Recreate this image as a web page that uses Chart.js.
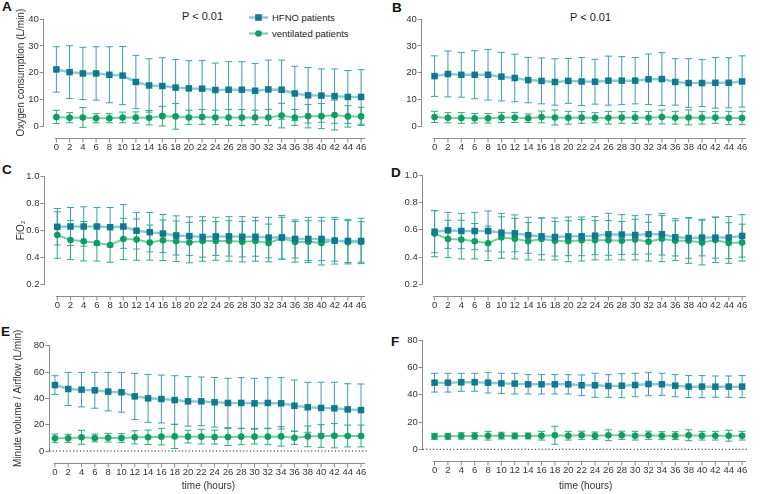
<!DOCTYPE html>
<html>
<head>
<meta charset="utf-8">
<script src="https://cdn.jsdelivr.net/npm/chart.js@4.4.0/dist/chart.umd.min.js"></script>
<style>
body { margin: 0; width: 763px; height: 494px; position: relative; background: #fff; overflow: hidden; font-family: "Liberation Sans", Arial, sans-serif; color: #222; }
canvas { position: absolute; }
.letter { position: absolute; font-weight: bold; font-size: 13.5px; line-height: 1; color: #111; }
.pval { position: absolute; font-size: 11px; line-height: 1; }
.legtxt { position: absolute; font-size: 9.5px; line-height: 1; white-space: nowrap; }
.legmark { position: absolute; }
</style>
</head>
<body>

<div class="letter" style="left:2px;top:0px">A</div>
<div class="letter" style="left:392px;top:1px">B</div>
<div class="letter" style="left:2px;top:163px">C</div>
<div class="letter" style="left:391px;top:165.5px">D</div>
<div class="letter" style="left:1px;top:325px">E</div>
<div class="letter" style="left:391px;top:335px">F</div>

<div class="pval" style="left:182px;top:11.3px">P &lt; 0.01</div>
<div class="pval" style="left:570px;top:12px">P &lt; 0.01</div>

<svg class="legmark" style="left:249px;top:13px" width="19" height="9">
  <line x1="0" y1="4.5" x2="19" y2="4.5" stroke="#8fc9d6" stroke-width="2.5"/>
  <rect x="6.2" y="1.2" width="6.6" height="6.6" fill="#10798e"/>
</svg>
<div class="legtxt" style="left:272px;top:12.5px">HFNO patients</div>
<svg class="legmark" style="left:249px;top:29.3px" width="19" height="9">
  <line x1="0" y1="4.5" x2="19" y2="4.5" stroke="#77cda4" stroke-width="2"/>
  <circle cx="9.5" cy="4.5" r="3.3" fill="#0e9d62"/>
</svg>
<div class="legtxt" style="left:272px;top:28.7px">ventilated patients</div>

<canvas id="cA"></canvas>
<canvas id="cB"></canvas>
<canvas id="cC"></canvas>
<canvas id="cD"></canvas>
<canvas id="cE"></canvas>
<canvas id="cF"></canvas>

<script>
// time points (hours)
const hours = [0, 2, 4, 6, 8, 10, 12, 14, 16, 18, 20, 22, 24, 26, 28, 30, 32, 34, 36, 38, 40, 42, 44, 46];
const seriesNames = ['HFNO patients', 'ventilated patients'];

// A - oxygen consumption (L/min), mean and SD
const o2HfnoA   = [21.2, 20.2, 19.7, 19.7, 19.2, 18.9, 16.5, 15.2, 15.0, 14.4, 14.1, 14.0, 13.5, 13.6, 13.6, 13.2, 13.7, 13.6, 12.2, 11.5, 11.4, 11.2, 10.9, 10.9];
const o2HfnoSdA = [8.5, 9.9, 9.8, 10.0, 10.5, 10.9, 10.0, 10.0, 10.6, 10.5, 10.4, 10.5, 10.1, 10.5, 10.5, 10.2, 11.0, 11.1, 10.2, 10.4, 10.0, 10.2, 9.9, 10.2];
const o2VentA   = [3.4, 3.1, 3.2, 2.9, 2.9, 3.2, 3.2, 3.1, 3.7, 3.6, 3.2, 3.4, 3.2, 3.2, 3.2, 3.2, 3.2, 3.9, 3.2, 3.7, 3.7, 4.1, 3.6, 3.6];
const o2VentSdA = [2.5, 1.9, 3.7, 1.7, 1.7, 2.0, 2.1, 2.7, 3.7, 4.8, 2.7, 2.8, 2.7, 3.0, 3.0, 2.7, 3.0, 4.6, 3.0, 4.4, 4.7, 5.6, 4.0, 3.4];

// B
const o2HfnoB   = [18.7, 19.5, 19.2, 19.2, 19.2, 18.5, 18.0, 17.2, 16.9, 16.5, 16.9, 16.7, 16.6, 17.0, 17.0, 17.0, 17.5, 17.6, 16.5, 16.1, 16.1, 16.2, 16.2, 16.7];
const o2HfnoSdB = [7.6, 8.6, 8.4, 9.0, 9.5, 9.1, 8.9, 8.5, 8.6, 8.7, 8.4, 9.0, 8.4, 9.2, 9.0, 8.7, 9.5, 9.9, 8.7, 9.1, 8.8, 9.5, 9.4, 9.6];
const o2VentB   = [3.4, 3.1, 3.0, 2.9, 2.9, 3.2, 3.2, 2.9, 3.4, 3.2, 3.1, 3.2, 3.1, 3.1, 3.2, 3.2, 3.1, 3.4, 3.1, 3.2, 3.1, 3.2, 3.0, 3.0];
const o2VentSdB = [2.1, 1.9, 2.0, 1.8, 1.8, 1.9, 1.9, 1.6, 2.2, 2.8, 2.4, 2.2, 1.9, 2.4, 2.2, 2.2, 2.4, 2.6, 2.4, 2.8, 2.4, 2.2, 2.5, 2.5];

// C - FiO2
const fio2HfnoC   = [0.626, 0.628, 0.628, 0.628, 0.623, 0.628, 0.597, 0.586, 0.576, 0.562, 0.557, 0.551, 0.555, 0.555, 0.552, 0.552, 0.546, 0.548, 0.536, 0.536, 0.536, 0.523, 0.521, 0.521];
const fio2HfnoSdC = [0.135, 0.141, 0.146, 0.141, 0.146, 0.162, 0.136, 0.146, 0.141, 0.145, 0.143, 0.150, 0.141, 0.146, 0.149, 0.144, 0.150, 0.161, 0.141, 0.160, 0.160, 0.173, 0.160, 0.168];
const fio2VentC   = [0.565, 0.528, 0.519, 0.506, 0.491, 0.536, 0.531, 0.509, 0.526, 0.519, 0.509, 0.521, 0.521, 0.521, 0.516, 0.521, 0.506, 0.541, 0.514, 0.516, 0.506, 0.526, 0.511, 0.514];
const fio2VentSdC = [0.172, 0.145, 0.146, 0.134, 0.128, 0.153, 0.153, 0.130, 0.150, 0.150, 0.150, 0.150, 0.143, 0.150, 0.150, 0.150, 0.140, 0.155, 0.150, 0.155, 0.163, 0.155, 0.160, 0.150];

// D
const fio2HfnoD   = [0.586, 0.596, 0.591, 0.591, 0.591, 0.579, 0.574, 0.560, 0.552, 0.547, 0.552, 0.552, 0.557, 0.567, 0.565, 0.562, 0.567, 0.567, 0.545, 0.540, 0.543, 0.543, 0.543, 0.555];
const fio2HfnoSdD = [0.154, 0.132, 0.130, 0.137, 0.147, 0.142, 0.135, 0.132, 0.135, 0.140, 0.142, 0.142, 0.140, 0.154, 0.146, 0.142, 0.144, 0.152, 0.137, 0.149, 0.134, 0.151, 0.154, 0.156];
const fio2VentD   = [0.572, 0.533, 0.528, 0.516, 0.501, 0.543, 0.535, 0.516, 0.533, 0.520, 0.516, 0.523, 0.523, 0.523, 0.520, 0.528, 0.513, 0.535, 0.520, 0.520, 0.506, 0.525, 0.503, 0.506];
const fio2VentSdD = [0.170, 0.137, 0.142, 0.130, 0.127, 0.152, 0.149, 0.137, 0.154, 0.141, 0.150, 0.152, 0.144, 0.144, 0.141, 0.149, 0.142, 0.169, 0.146, 0.166, 0.164, 0.166, 0.149, 0.135];

// E - minute volume / airflow (L/min)
const mvHfnoE   = [50.1, 47.1, 46.6, 46.1, 45.1, 44.6, 41.5, 40.0, 39.5, 38.7, 37.7, 37.7, 37.0, 36.5, 36.5, 36.2, 36.5, 36.2, 34.4, 33.2, 32.7, 32.4, 31.6, 31.1];
const mvHfnoSdE = [7.1, 12.6, 13.1, 13.6, 14.6, 15.1, 17.5, 18.2, 18.2, 18.5, 18.8, 18.5, 18.9, 18.7, 19.2, 19.0, 19.2, 19.5, 19.5, 19.0, 19.5, 19.8, 19.5, 19.8];
const mvVentE   = [9.6, 9.6, 10.4, 9.9, 10.1, 9.9, 10.4, 10.4, 10.9, 11.1, 10.9, 10.9, 10.6, 10.6, 10.9, 10.9, 10.9, 11.1, 10.1, 11.1, 11.4, 11.6, 11.4, 11.4];
const mvVentSdE = [3.3, 3.1, 5.3, 3.0, 3.3, 3.3, 5.0, 5.5, 6.3, 9.2, 4.8, 5.6, 5.3, 6.4, 6.1, 5.6, 6.1, 7.4, 5.1, 7.9, 8.6, 9.2, 8.3, 8.3];

// F
const mvHfnoF   = [48.9, 48.9, 49.2, 49.2, 48.9, 48.4, 48.2, 47.7, 47.7, 47.7, 47.7, 47.0, 47.0, 46.5, 46.7, 47.2, 47.9, 47.7, 46.7, 46.0, 46.0, 46.0, 46.0, 46.0];
const mvHfnoSdF = [6.9, 6.9, 6.6, 6.6, 7.6, 7.4, 7.6, 7.1, 7.1, 7.1, 7.1, 7.6, 8.8, 8.3, 8.8, 8.6, 8.6, 8.1, 8.1, 8.1, 8.1, 7.8, 7.8, 8.1];
const mvVentF   = [9.5, 9.5, 9.8, 9.8, 10.0, 10.0, 9.8, 9.8, 10.0, 10.3, 10.0, 10.3, 10.0, 10.3, 10.3, 10.0, 10.3, 10.0, 10.0, 10.3, 10.0, 10.0, 10.0, 10.0];
const mvVentSdF = [2.2, 2.2, 2.4, 2.4, 3.2, 2.5, 2.2, 2.2, 3.2, 6.6, 3.2, 3.0, 2.7, 4.0, 3.0, 3.2, 3.0, 2.9, 2.9, 4.0, 3.2, 3.2, 4.0, 3.2];

const FONT = '"Liberation Sans", Arial, sans-serif';
const teal = '#10798e', tealLine = '#8fc9d6', tealBar = '#3c9db1';
const green = '#0e9d62', greenLine = '#77cda4', greenBar = '#2caa78';
const axisGrey = '#8c8c8c', textGrey = '#333';

// error bars (mean +/- SD) drawn under the lines
const errorBars = {
    id: 'errorBars',
    beforeDatasetsDraw(chart) {
        const {ctx, scales: {x, y}} = chart;
        ctx.save();
        ctx.lineWidth = 1;
        chart.data.datasets.slice().reverse().forEach(ds => {
            ctx.strokeStyle = ds.barColor;
            ds.data.forEach((p, i) => {
                const px = x.getPixelForValue(p.x);
                const lo = y.getPixelForValue(p.y - ds.sd[i]);
                const hi = y.getPixelForValue(p.y + ds.sd[i]);
                ctx.beginPath();
                ctx.moveTo(px, lo); ctx.lineTo(px, hi);
                ctx.moveTo(px - 3.5, lo); ctx.lineTo(px + 3.5, lo);
                ctx.moveTo(px - 3.5, hi); ctx.lineTo(px + 3.5, hi);
                ctx.stroke();
            });
        });
        ctx.restore();
    }
};

// offset x axis line with ticks, and dotted zero line
const axisDecor = {
    id: 'axisDecor',
    afterDraw(chart, args, opts) {
        const {ctx, chartArea, scales: {x, y}} = chart;
        const ly = Math.round(chartArea.bottom + 11.5) + 0.5;
        ctx.save();
        ctx.strokeStyle = axisGrey;
        ctx.lineWidth = 1;
        ctx.beginPath();
        ctx.moveTo(x.getPixelForValue(-0.2), ly);
        ctx.lineTo(x.getPixelForValue(46.6), ly);
        hours.forEach(h => {
            const px = x.getPixelForValue(h);
            ctx.moveTo(px, ly);
            ctx.lineTo(px, ly + 4);
        });
        ctx.stroke();
        if (opts.zeroLine) {
            const zy = y.getPixelForValue(0);
            ctx.strokeStyle = '#222';
            ctx.setLineDash([1.2, 2.2]);
            ctx.beginPath();
            ctx.moveTo(chartArea.left, zy);
            ctx.lineTo(chartArea.right, zy);
            ctx.stroke();
        }
        ctx.restore();
    }
};

// panel boxes: canvas box, y-axis x, pixel of hour 0 / 46, top / bottom of y range
const panels = [
    {id: 'cA', hfno: o2HfnoA, hfnoSd: o2HfnoSdA, vent: o2VentA, ventSd: o2VentSdA,
     yMin: 0, yMax: 40, yStep: 10, yTitle: 'Oxygen consumption (L/min)', titlePad: 15,
     box: [0, 0, 382, 160], axisX: 43.8, x0: 56.7, x46: 369.3, yTop: 19.3, yBot: 126},
    {id: 'cB', hfno: o2HfnoB, hfnoSd: o2HfnoSdB, vent: o2VentB, ventSd: o2VentSdB,
     yMin: 0, yMax: 40, yStep: 10,
     box: [380, 0, 383, 160], axisX: 421.7, x0: 435, x46: 753.3, yTop: 19.3, yBot: 126},
    {id: 'cC', hfno: fio2HfnoC, hfnoSd: fio2HfnoSdC, vent: fio2VentC, ventSd: fio2VentSdC,
     yMin: 0.2, yMax: 1.0, yStep: 0.2, dec: 1, yTitle: 'FiO\u2082', titlePad: 15,
     box: [0, 160, 382, 160], axisX: 44.5, x0: 57.7, x46: 371.7, yTop: 176.3, yBot: 284.3},
    {id: 'cD', hfno: fio2HfnoD, hfnoSd: fio2HfnoSdD, vent: fio2VentD, ventSd: fio2VentSdD,
     yMin: 0.2, yMax: 1.0, yStep: 0.2, dec: 1,
     box: [380, 160, 383, 160], axisX: 422.7, x0: 435, x46: 752.7, yTop: 175.3, yBot: 284.3},
    {id: 'cE', hfno: mvHfnoE, hfnoSd: mvHfnoSdE, vent: mvVentE, ventSd: mvVentSdE,
     yMin: 0, yMax: 80, yStep: 20, yTitle: 'Minute volume / Airflow (L/min)', titlePad: 12,
     xTitle: 'time (hours)', zeroLine: true,
     box: [0, 320, 382, 174], axisX: 49.3, x0: 55, x46: 365, yTop: 345.7, yBot: 451},
    {id: 'cF', hfno: mvHfnoF, hfnoSd: mvHfnoSdF, vent: mvVentF, ventSd: mvVentSdF,
     yMin: 0, yMax: 80, yStep: 20, xTitle: 'time (hours)', zeroLine: true,
     box: [380, 320, 383, 174], axisX: 422.7, x0: 435, x46: 755, yTop: 340.3, yBot: 449.3}
];

const X_MAX = 47;

function makePanel(p) {
    const [left, top, w, h] = p.box;
    const cv = document.getElementById(p.id);
    cv.width = w; cv.height = h;
    cv.style.left = left + 'px'; cv.style.top = top + 'px';
    cv.style.width = w + 'px'; cv.style.height = h + 'px';

    const ppu = (p.x46 - p.x0) / 46;
    const xMin = -(p.x0 - p.axisX) / ppu;
    const right = p.x46 + (X_MAX - 46) * ppu;
    const yW = p.axisX - left;
    const xH = top + h - p.yBot;

    const pts = arr => hours.map((hr, i) => ({x: hr, y: arr[i]}));

    new Chart(cv, {
        type: 'line',
        data: {
            datasets: [
                {label: seriesNames[0], data: pts(p.hfno), sd: p.hfnoSd, barColor: tealBar,
                 borderColor: tealLine, borderWidth: 2.5, pointStyle: 'rect', pointRadius: 4.6,
                 pointBackgroundColor: teal, pointBorderColor: teal, pointBorderWidth: 0, clip: false},
                {label: seriesNames[1], data: pts(p.vent), sd: p.ventSd, barColor: greenBar,
                 borderColor: greenLine, borderWidth: 2, pointStyle: 'circle', pointRadius: 3.3,
                 pointBackgroundColor: green, pointBorderColor: green, pointBorderWidth: 0, clip: false}
            ]
        },
        options: {
            responsive: false,
            animation: false,
            events: [],
            layout: {padding: {top: p.yTop - top, right: left + w - right, bottom: 0, left: 0}},
            plugins: {
                legend: {display: false},
                tooltip: {enabled: false},
                axisDecor: {zeroLine: !!p.zeroLine}
            },
            scales: {
                x: {
                    type: 'linear', min: xMin, max: X_MAX,
                    afterBuildTicks: s => { s.ticks = hours.map(v => ({value: v})); },
                    afterFit: s => { s.height = xH; },
                    grid: {display: false, drawTicks: false},
                    border: {display: false},
                    ticks: {font: {family: FONT, size: 9.5}, color: textGrey, padding: 15.5,
                            autoSkip: false, maxRotation: 0, minRotation: 0},
                    title: {display: !!p.xTitle, text: p.xTitle || '', color: textGrey,
                            font: {family: FONT, size: 10}, padding: {top: 0, bottom: 1.3}}
                },
                y: {
                    min: p.yMin, max: p.yMax,
                    afterFit: s => { s.width = yW; },
                    grid: {drawOnChartArea: false, drawTicks: true, tickLength: 4, color: axisGrey},
                    border: {display: true, color: axisGrey},
                    ticks: {stepSize: p.yStep, font: {family: FONT, size: 9.5}, color: textGrey, padding: 1,
                            callback: v => p.dec ? v.toFixed(p.dec) : v},
                    title: {display: !!p.yTitle, text: p.yTitle || '', color: textGrey,
                            font: {family: FONT, size: 10}, padding: {top: p.titlePad || 0, bottom: 0}}
                }
            }
        },
        plugins: [errorBars, axisDecor]
    });
}

panels.forEach(makePanel);
</script>
</body>
</html>
